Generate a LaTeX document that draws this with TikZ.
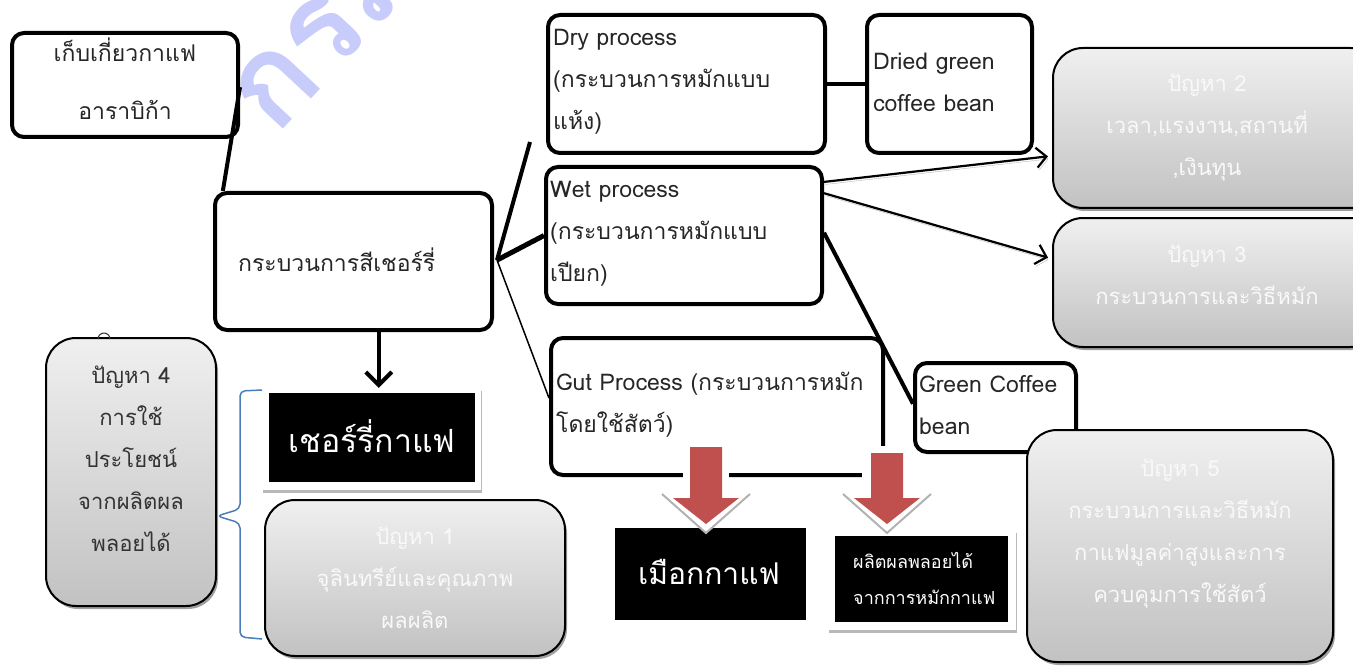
\documentclass[tikz,border=0pt]{standalone}
\usepackage{fontspec}
\setmainfont[Script=Thai]{Loma}
\usetikzlibrary{arrows.meta,calc,shadows,fit}
\definecolor{wm}{RGB}{200,204,250}
\definecolor{redarrow}{RGB}{192,80,77}
\definecolor{bracecol}{RGB}{74,126,187}
\begin{document}
\begin{tikzpicture}[x=1pt,y=-1pt,
  wbox/.style={draw=black, line width=4pt, rounded corners=12pt, fill=white, inner sep=0pt},
  gbox/.style={draw=black, line width=2pt, rounded corners=30pt, inner sep=0pt,
     top color=gray!12, bottom color=gray!48,
     drop shadow={shadow xshift=2pt, shadow yshift=-3pt, fill=gray!75, opacity=1}},
  blk/.style={fill=black, inner sep=0pt},
  frm/.style={fill=white, inner sep=0pt, drop shadow={shadow xshift=1pt, shadow yshift=-3pt, fill=gray!55, opacity=1}},
  txt/.style={font=\fontsize{23}{42}\selectfont, align=left, inner sep=0pt, text=black!85},
  gtxt/.style={font=\fontsize{22}{42}\selectfont, align=center, inner sep=0pt, text=white!95!gray},
  thick4/.style={line width=4pt},
  arr/.style={line width=2.2pt, -{Straight Barb[length=10pt,width=20pt,line width=2.2pt]},
     preaction={draw=gray!55, transform canvas={shift={(1.5pt,-2.5pt)}}}},
  redarr/.style={fill=redarrow, draw=none},
  whitebg/.style={fill=white, draw=none},
  chevron/.style={draw=gray!60, line width=2pt}
]
\useasboundingbox (0,0) rectangle (1353,666);
\clip (0,0) rectangle (1353,666);

% watermark
\node[text=wm, font=\fontsize{125}{125}\selectfont\bfseries, rotate=47, anchor=base west, inner sep=0pt] (wmark) at (275,138) {กรม};

% white boxes
\node[wbox, fit={(12,33) (238,137)}] (harvest) {};
\node[wbox, fit={(215,193) (492,330)}] (process) {};
\node[wbox, fit={(548,15) (825,153)}] (dry) {};
\node[wbox, fit={(867,15) (1032,153)}] (dried) {};
\node[wbox, fit={(546,167) (822,304)}] (wet) {};
\node[wbox, fit={(551,338) (883,475)}] (gut) {};
\node[wbox, fit={(915,363) (1076,452)}] (green) {};

% gray boxes
\node[gbox, fit={(1053,48) (1380,208)}] (p2) {};
\node[gbox, fit={(1053,218) (1380,347)}] (p3) {};
\node[gbox, fit={(1027,430) (1333,662)}] (p5) {};
\node[gbox, fit={(46,338) (216,606)}] (p4) {};
\node[gbox, fit={(265,500) (565,656)}] (p1) {};
\draw[line width=1pt, black!80] (98,339) arc (180:360:6);

% black boxes
\node[frm, fit={(262,388) (481,490)}] (cherryframe) {};
\node[blk, fit={(269,393) (475,482)}] (cherry) {};
\node[blk, fit={(615,528) (806,620)}] (mucilage) {};
\node[frm, fit={(828,530) (1016,630)}] (byframe) {};
\node[blk, fit={(835,536) (1008,622)}] (byprod) {};

% texts
\node[txt, align=center, font=\fontsize{23}{58}\selectfont] (t-harvest) at (125,79) {เก็บเกี่ยวกาแฟ\\อาราบิก้า};
\node[txt, anchor=west] (t-process) at (238,260) {กระบวนการสีเชอร์รี่};
\node[txt, anchor=west] (t-dry) at (553,82) {Dry process\\(กระบวนการหมักแบบ\\แห้ง)};
\node[txt, anchor=west] (t-dried) at (873,82) {Dried green\\coffee bean};
\node[txt, anchor=west] (t-wet) at (550,234) {Wet process\\(กระบวนการหมักแบบ\\เปียก)};
\node[txt, anchor=west] (t-gut) at (556,405) {Gut Process (กระบวนการหมัก\\โดยใช้สัตว์)};
\node[txt, anchor=west] (t-green) at (919,405) {Green Coffee\\bean};
\node[gtxt] (t-p2) at (1207,128) {ปัญหา 2\\เวลา,แรงงาน,สถานที่\\,เงินทุน};
\node[gtxt] (t-p3) at (1207,275) {ปัญหา 3\\กระบวนการและวิธีหมัก};
\node[gtxt] (t-p5) at (1180,534) {ปัญหา 5\\กระบวนการและวิธีหมัก\\กาแฟมูลค่าสูงและการ\\ควบคุมการใช้สัตว์};
\node[gtxt, text=black!80] (t-p4) at (131,459) {ปัญหา 4\\การใช้\\ประโยชน์\\จากผลิตผล\\พลอยได้};
\node[gtxt] (t-p1) at (415,578) {ปัญหา 1\\จุลินทรีย์และคุณภาพ\\ผลผลิต};
\node[text=white, font=\fontsize{32}{32}\selectfont, inner sep=0pt] (t-cherry) at (372,436) {เชอร์รี่กาแฟ};
\node[text=white, font=\fontsize{30}{30}\selectfont, inner sep=0pt] (t-mucilage) at (709,572) {เมือกกาแฟ};
\node[text=white, font=\fontsize{18}{36}\selectfont, align=left, inner sep=0pt, anchor=west] (t-byprod) at (853,578) {ผลิตผลพลอยได้\\จากการหมักกาแฟ};

% connectors
\coordinate (hub) at ($(process.north east)!0.49!(process.south east)+(3,0)$);
\coordinate (dryend) at ($(dry.south west)+(-16,-13)$);
\draw[thick4] ($(harvest.north east)!0.52!(harvest.south east)$) -- ($(process.north west)!0.035!(process.north east)$);
\draw[thick4] (hub) -- (dryend);
\draw[line width=5pt] (hub) -- ($(wet.north west)!0.5!(wet.south west)$);
\draw[line width=1.5pt] (hub) -- ($(gut.north west)!0.44!(gut.south west)$);
\draw[thick4] (dry.east) -- (dried.west);
\draw[arr] ($(wet.north east)!0.12!(wet.south east)$) -- ($(p2.north west)!0.675!(p2.south west)+(-4,0)$);
\draw[arr] ($(wet.north east)!0.2!(wet.south east)$) -- ($(p3.north west)!0.31!(p3.south west)+(-4,0)$);
\draw[thick4] ($(wet.north east)!0.48!(wet.south east)$) -- ($(green.north west)!0.46!(green.south west)$);
\coordinate (pdown) at ($(process.south west)!0.59!(process.south east)$);
\draw[thick4, -{Straight Barb[length=13pt,width=26pt,line width=4pt]}] (pdown) -- (pdown |- cherryframe.north);

% red block arrows
\fill[whitebg] (683,441) rectangle (729,498);
\fill[whitebg] (662,494) -- (706,534) -- (750,494) -- cycle;
\draw[chevron] (662,494) -- (706,533) -- (750,494);
\fill[redarr] (690,447) -- (722,447) -- (722,498) -- (739,498) -- (706,524) -- (673,498) -- (690,498) -- cycle;
\fill[whitebg] (862,446) rectangle (910,498);
\fill[whitebg] (843,494) -- (887,534) -- (931,494) -- cycle;
\draw[chevron] (843,494) -- (887,533) -- (931,494);
\fill[redarr] (871,453) -- (903,453) -- (903,498) -- (920,498) -- (887,524) -- (854,498) -- (871,498) -- cycle;

% brace
\draw[bracecol, line width=1.5pt, rounded corners=5pt] (262,390) -- (240,391) -- (240,509) -- (217,516) -- (240,523) -- (240,637) -- (262,639);
\end{tikzpicture}
\end{document}
